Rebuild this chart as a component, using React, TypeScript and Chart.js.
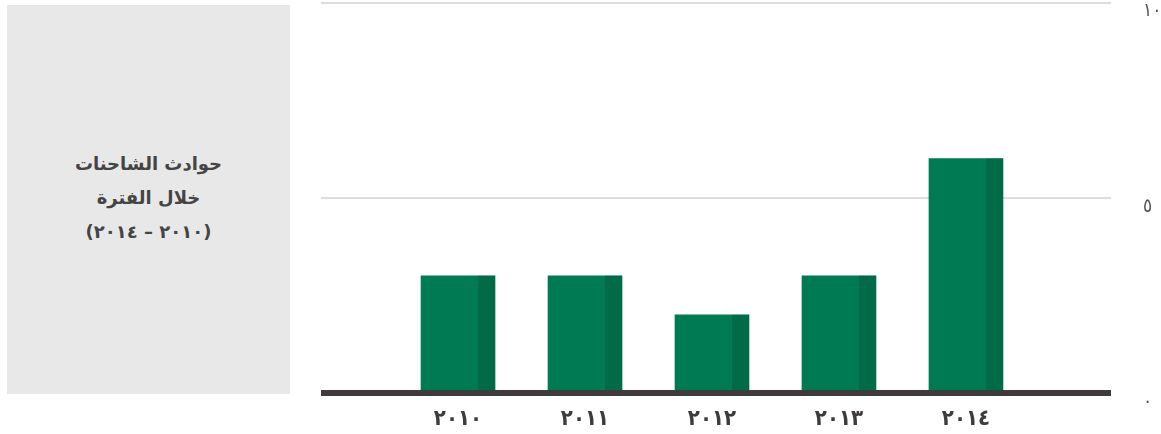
import React, { useEffect, useRef } from "react";
import { Chart, registerables } from "chart.js";

Chart.register(...registerables);

const years = [2010, 2011, 2012, 2013, 2014];
const xLabels = ["٢٠١٠", "٢٠١١", "٢٠١٢", "٢٠١٣", "٢٠١٤"];
const accidents = [3, 3, 2, 3, 6];
const yTickValues = [0, 5, 10];
const yTickLabels = ["٠", "٥", "١٠"];
const panelLines = ["حوادث الشاحنات", "خلال الفترة", "(٢٠١٠ – ٢٠١٤)"];

const LIGHT = "#007a53";
const DARK = "#006b46";
const AXIS = "#3f3b3c";
const FONT = "'DejaVu Sans', sans-serif";
const FONT_C = "'DejaVu Sans Condensed', 'DejaVu Sans', sans-serif";

const sidePlugin = {
  id: "barSide",
  beforeDraw(chart: any) {
    try {
      chart.ctx.letterSpacing = "-5px";
    } catch (e) {}
  },
  afterDatasetsDraw(chart: any) {
    const ctx = chart.ctx;
    const meta = chart.getDatasetMeta(0);
    ctx.save();
    ctx.fillStyle = DARK;
    meta.data.forEach((el: any) => {
      const p = el.getProps(["x", "y", "base", "width"], true);
      const right = p.x + p.width / 2;
      const w = 17;
      ctx.fillRect(right - w, p.y, w, p.base - p.y + 3);
    });
    const area = chart.chartArea;
    const y0 = chart.scales.y.getPixelForValue(0);
    ctx.fillStyle = AXIS;
    ctx.fillRect(area.left, y0 - 3, area.right - area.left, 6);
    ctx.restore();
  },
};

export default function App() {
  const ref = useRef<HTMLCanvasElement | null>(null);

  useEffect(() => {
    if (!ref.current) return;
    const chart = new Chart(ref.current, {
      type: "bar",
      data: {
        datasets: [
          {
            data: years.map((y, i) => ({ x: y, y: accidents[i] })),
            backgroundColor: LIGHT,
            borderWidth: 0,
            barThickness: 74,
          },
        ],
      },
      options: {
        responsive: false,
        animation: false,
        events: [],
        layout: { autoPadding: false, padding: { left: 21, top: 2.5, right: 0, bottom: 0 } },
        plugins: { legend: { display: false }, tooltip: { enabled: false } },
        scales: {
          x: {
            type: "linear",
            offset: false,
            min: 2008.921,
            max: 2015.142,
            afterFit: (s: any) => {
              s.height = 41;
              s.paddingLeft = 0;
              s.paddingRight = 0;
            },
            grid: { display: false, drawTicks: false },
            border: { display: false },
            ticks: {
              stepSize: 1,
              autoSkip: false,
              maxRotation: 0,
              padding: 13,
              color: AXIS,
              font: { family: FONT_C, size: 22, weight: "bold" },
              callback: (v: any) => {
                const i = years.findIndex((y) => Math.abs(y - Number(v)) < 1e-6);
                return i >= 0 ? xLabels[i] : "";
              },
            },
          },
          y: {
            position: "right",
            min: 0,
            max: 10,
            afterFit: (s: any) => {
              s.width = 50;
              s.paddingTop = 0;
              s.paddingBottom = 0;
            },
            afterBuildTicks: (s: any) => {
              s.ticks = yTickValues.map((v) => ({ value: v }));
            },
            grid: {
              drawTicks: false,
              lineWidth: 2,
              color: (c: any) => (c.tick && c.tick.value === 0 ? "rgba(0,0,0,0)" : "#dddddd"),
            },
            border: { display: false },
            ticks: {
              padding: 32,
              labelOffset: 9,
              color: "#555555",
              font: { family: FONT_C, size: 19 },
              callback: (v: any) => {
                const i = yTickValues.indexOf(Number(v));
                return i >= 0 ? yTickLabels[i] : "";
              },
            },
          },
        },
      },
      plugins: [sidePlugin],
    } as any);
    return () => chart.destroy();
  }, []);

  return (
    <div style={{ position: "fixed", left: 0, top: 0, width: 1161, height: 434, background: "#fff" }}>
      <div
        style={{
          position: "absolute",
          left: 7,
          top: 5,
          width: 283,
          height: 389,
          background: "#e8e8e8",
          display: "flex",
          flexDirection: "column",
          alignItems: "center",
          justifyContent: "center",
          direction: "rtl",
          fontFamily: FONT,
          fontWeight: "bold",
          fontSize: 18,
          lineHeight: "34px",
          color: "#444444",
          textAlign: "center",
          paddingBottom: 4,
          boxSizing: "border-box",
        }}
      >
        {panelLines.map((t, i) => (
          <div key={i}>{t}</div>
        ))}
      </div>
      <canvas
        ref={ref}
        width={861}
        height={434}
        style={{ position: "absolute", left: 300, top: 0, width: 861, height: 434 }}
      />
    </div>
  );
}
